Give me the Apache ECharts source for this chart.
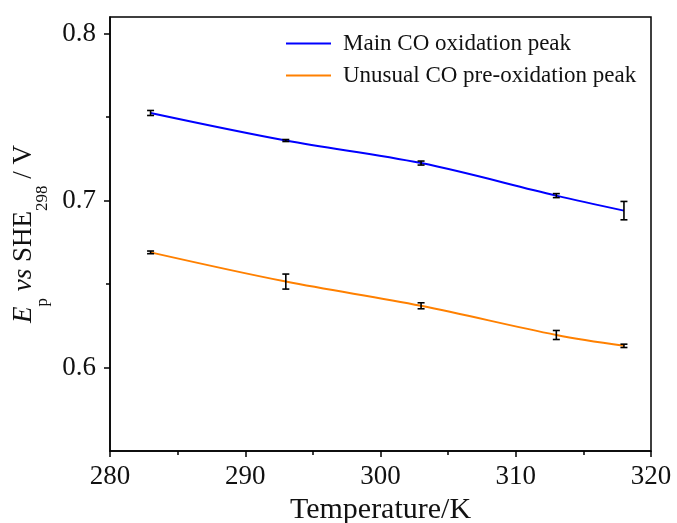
<!DOCTYPE html>
<html><head><meta charset="utf-8">
<script src="https://cdn.jsdelivr.net/npm/echarts@6/dist/echarts.min.js"></script>
<style>html,body{margin:0;padding:0;background:#fff}#c{width:677px;height:523px}</style>
</head><body><div id="c"></div>
<script>
const temperatures = [283, 293, 303, 313, 318];
const mainPeak = [0.7525, 0.7360, 0.7225, 0.7030, 0.6940];
const mainErr = [0.0015, 0.0006, 0.0012, 0.0012, 0.0055];
const prePeak = [0.6690, 0.6515, 0.6370, 0.6195, 0.6130];
const preErr = [0.0008, 0.0045, 0.0018, 0.0027, 0.0010];
const xTicks = [280, 290, 300, 310, 320];
const yTicks = [0.6, 0.7, 0.8];
const yMinor = [0.65, 0.75];
const seriesNames = ['Main CO oxidation peak', 'Unusual CO pre-oxidation peak'];

const FONT = 'Liberation Serif';
const chart = echarts.init(document.getElementById('c'), null, {renderer: 'canvas'});

function errItem(params, api) {
  const x = api.value(0), y = api.value(1), e = api.value(2);
  const t = api.coord([x, y + e]), b = api.coord([x, y - e]);
  const w = 3.5;
  const st = {stroke: '#000', lineWidth: 1.6};
  return {type: 'group', children: [
    {type: 'line', shape: {x1: t[0], y1: t[1], x2: b[0], y2: b[1]}, style: st},
    {type: 'line', shape: {x1: t[0] - w, y1: t[1], x2: t[0] + w, y2: t[1]}, style: st},
    {type: 'line', shape: {x1: b[0] - w, y1: b[1], x2: b[0] + w, y2: b[1]}, style: st}
  ]};
}

const lbl = {fontFamily: FONT, fontSize: 27, color: '#111'};

const option = {
  animation: false,
  textStyle: {fontFamily: FONT},
  grid: {left: 110, right: 26, top: 17, bottom: 72, show: true, borderColor: '#000', borderWidth: 1.5,
         backgroundColor: 'transparent', containLabel: false, outerBoundsMode: 'none'},
  legend: {
    orient: 'vertical', left: 281, top: 27, itemWidth: 45, itemHeight: 2, icon: 'rect', itemGap: 9,
    textStyle: {fontFamily: FONT, fontSize: 23, color: '#111',
      rich: {t: {fontFamily: FONT, fontSize: 23, lineHeight: 26, color: '#111', padding: [0, 0, 0, 7]}}},
    formatter: n => '{t|' + n + '}',
    data: seriesNames
  },
  xAxis: {
    type: 'value', min: 280, max: 320, interval: 10,
    name: 'Temperature/K', nameLocation: 'middle', nameGap: 35,
    nameTextStyle: {fontFamily: FONT, fontSize: 30, color: '#111'},
    axisLine: {lineStyle: {color: '#000', width: 1.5}},
    axisTick: {length: 6, lineStyle: {width: 1.5}},
    minorTick: {show: true, splitNumber: 2, length: 4, lineStyle: {color: '#000', width: 1.5}},
    splitLine: {show: false},
    axisLabel: {fontFamily: FONT, fontSize: 27, color: '#111', margin: 12, rich: {t: lbl}, formatter: v => '{t|' + v + '}'}
  },
  yAxis: [{
    type: 'value', min: 0.55, max: 0.81,
    name: '{i|E}{s|p}{i| vs} {r|SHE}{s|298}{r| / V}', nameLocation: 'middle', nameGap: 53,
    nameTextStyle: {fontFamily: FONT, fontSize: 27, color: '#111',
      rich: {
        i: {fontFamily: FONT, fontSize: 27, fontStyle: 'italic', color: '#111', lineHeight: 54, verticalAlign: 'middle'},
        r: {fontFamily: FONT, fontSize: 27, color: '#111', lineHeight: 54, verticalAlign: 'middle'},
        s: {fontFamily: FONT, fontSize: 17, color: '#111', lineHeight: 54, verticalAlign: 'bottom'}
      }},
    axisLine: {show: true, lineStyle: {color: '#000', width: 1.5}},
    axisTick: {show: true, length: 6, lineStyle: {width: 1.5}, customValues: yTicks},
    splitLine: {show: false},
    axisLabel: {fontFamily: FONT, fontSize: 27, color: '#111', margin: 14, customValues: yTicks, rich: {t: lbl}, formatter: v => '{t|' + v.toFixed(1) + '}'}
  }, {
    type: 'value', min: 0.55, max: 0.81, position: 'left', offset: 0,
    axisLine: {show: false},
    axisTick: {show: true, length: 4, lineStyle: {color: '#000', width: 1.5}, customValues: yMinor},
    axisLabel: {show: false}, splitLine: {show: false}
  }],
  series: [
    {name: seriesNames[0], type: 'line', smooth: 0.35, symbol: 'none', color: '#0000ff',
     lineStyle: {width: 2}, data: temperatures.map((t, i) => [t, mainPeak[i]])},
    {name: seriesNames[1], type: 'line', smooth: 0.35, symbol: 'none', color: '#ff8000',
     lineStyle: {width: 2}, data: temperatures.map((t, i) => [t, prePeak[i]])},
    {type: 'custom', renderItem: errItem, z: 5, data: temperatures.map((t, i) => [t, mainPeak[i], mainErr[i]])},
    {type: 'custom', renderItem: errItem, z: 5, data: temperatures.map((t, i) => [t, prePeak[i], preErr[i]])}
  ]
};
chart.setOption(option);
</script></body></html>
